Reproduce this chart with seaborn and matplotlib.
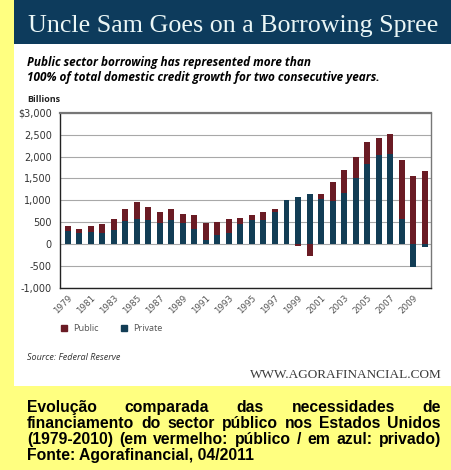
import matplotlib
matplotlib.use("Agg")
import matplotlib.pyplot as plt
from matplotlib.patches import Patch, Rectangle
import numpy as np
import pandas as pd
import seaborn as sns

# values in billions of dollars
years = list(range(1979, 2011))
private = [300, 265, 280, 250, 320, 535, 580, 550, 490, 550,
           490, 340, 85, 215, 244, 470, 560, 560, 738, 1005,
           1070, 1140, 1025, 985, 1175, 1500, 1825, 2035, 2052, 570,
           -520, -70]
public = [112, 80, 140, 208, 260, 260, 380, 297, 235, 244,
          197, 316, 395, 296, 320, 120, 115, 170, 72, 0,
          -40, -265, 130, 440, 510, 484, 500, 384, 466, 1352,
          1564, 1680]
y_ticks = [-1000, -500, 0, 500, 1000, 1500, 2000, 2500, 3000]
y_labels = ["-1,000", "-500", "0", "500", "1,000", "1,500", "2,000", "2,500", "$3,000"]
x_labels = [str(y) for y in years[::2]]

PUBLIC_COLOR = "#6A1B24"
PRIVATE_COLOR = "#123D55"
YELLOW = "#FFFF80"
NAVY = "#0D3B5C"

W, H = 451, 470


def fx(px):
    return px / W


def fy(py):
    return 1 - py / H


fig = plt.figure(figsize=(W / 100, H / 100), dpi=100, facecolor=YELLOW)
fig.patches.append(Rectangle((fx(14), fy(386)), (W - 14) / W, (386 - 44) / H,
                             transform=fig.transFigure, facecolor="white", zorder=-10))
fig.patches.append(Rectangle((fx(14), fy(44)), (W - 14) / W, 44 / H,
                             transform=fig.transFigure, facecolor=NAVY, zorder=-10))

ax = fig.add_axes([fx(60.3), fy(288), (430.7 - 60.3) / W, (288 - 112.7) / H])
ax.set_facecolor("white")

df = pd.DataFrame({"year": [str(y) for y in years], "private": private, "public": public})
pub_bottom = np.where(df["public"] >= 0, np.maximum(df["private"], 0),
                      np.minimum(df["private"], 0))

sns.barplot(data=df, x="year", y="private", color=PRIVATE_COLOR, width=0.52,
            saturation=1, ax=ax, zorder=3)
sns.barplot(data=df, x="year", y="public", bottom=pub_bottom, color=PUBLIC_COLOR,
            width=0.52, saturation=1, ax=ax, zorder=3)

ax.set_ylim(-1000, 3000)
ax.set_xlim(-0.64, 31.52)
ax.set_yticks(y_ticks)
ax.set_yticklabels(y_labels)
ax.set_xticks(range(0, 32, 2))
ax.set_xticklabels(x_labels, rotation=45, ha="right", rotation_mode="anchor")
ax.set_xlabel("")
ax.set_ylabel("")
ax.tick_params(axis="both", length=0)
ax.tick_params(axis="y", pad=6, labelsize=7, labelcolor="#333333")
ax.tick_params(axis="x", pad=4, labelsize=6.3, labelcolor="#555555")
ax.set_axisbelow(True)
ax.yaxis.grid(True, color="#A8A8A8", linewidth=0.8)
ax.xaxis.grid(False)
for side in ["top", "right"]:
    ax.spines[side].set_color("#777777")
ax.spines["top"].set_linewidth(1.6)
ax.spines["right"].set_linewidth(1.0)
for side in ["left", "bottom"]:
    ax.spines[side].set_color("#222222")
    ax.spines[side].set_linewidth(1.0)

handles = [Patch(color=PUBLIC_COLOR, label="Public"), Patch(color=PRIVATE_COLOR, label="Private")]
ax.legend(handles=handles, loc="center left", bbox_to_anchor=(fx(60.7), fy(328.5)),
          bbox_transform=fig.transFigure, ncol=2, frameon=False, fontsize=6.6,
          prop={"family": "Open Sans", "size": 6.6},
          labelcolor="#555555", handlelength=0.73, handleheight=0.73,
          handletextpad=0.62, columnspacing=2.4, borderpad=0, borderaxespad=0)

# header texts
fig.text(fx(28), fy(32), "Uncle Sam Goes on a Borrowing Spree", family="Liberation Serif",
         fontsize=18.7, color="#EAF6F6", va="baseline")
fig.text(fx(27), fy(66), "Public sector borrowing has represented more than",
         family="Open Sans", fontsize=8.5, fontweight="bold", style="italic", va="baseline")
fig.text(fx(27), fy(81), "100% of total domestic credit growth for two consecutive years.",
         family="Open Sans", fontsize=8.5, fontweight="bold", style="italic", va="baseline")
fig.text(fx(27), fy(102), "Billions", family="Open Sans", fontsize=6.5,
         fontweight="bold", color="#222222", va="baseline")

# footer texts
fig.text(fx(27), fy(360), "Source: Federal Reserve", family="Open Sans", fontsize=6.5,
         style="italic", color="#333333", va="baseline")
fig.text(fx(442), fy(378), "WWW.AGORAFINANCIAL.COM", family="Liberation Serif",
         fontsize=9.5, color="#3A3A3A", ha="right", va="baseline")

# caption on the yellow strip, first three lines justified
caption = [
    "Evolução comparada das necessidades de",
    "financiamento do sector público nos Estados Unidos",
    "(1979-2010) (em vermelho: público / em azul: privado)",
    "Fonte: Agorafinancial, 04/2011",
]
baselines = [412, 428, 444, 460]
left, right = 27, 441
renderer = fig.canvas.get_renderer()
cap_kw = dict(family="Liberation Sans", fontsize=11.3, fontweight="bold", color="black",
              va="baseline")
for i, (line, base) in enumerate(zip(caption, baselines)):
    if i == len(caption) - 1:
        fig.text(fx(left), fy(base), line, **cap_kw)
        continue
    words = line.split(" ")
    items = [fig.text(0, fy(base), w, **cap_kw) for w in words]
    widths = [t.get_window_extent(renderer).width for t in items]
    gap = (right - left - sum(widths)) / (len(words) - 1)
    pos = left
    for t, w in zip(items, widths):
        t.set_x(fx(pos))
        pos += w + gap

fig.savefig("out.png", dpi=100, facecolor=fig.get_facecolor())
